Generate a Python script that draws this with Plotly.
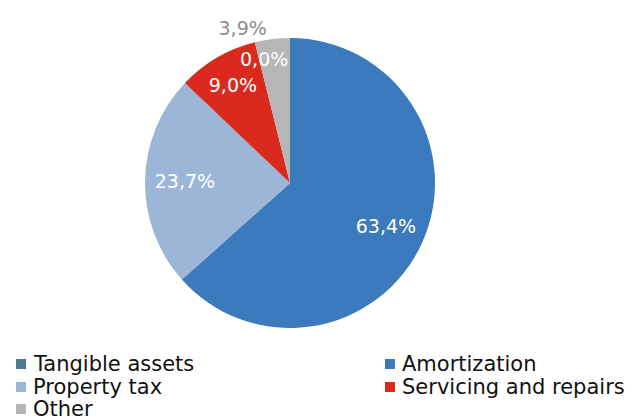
import plotly.graph_objects as go

categories = ["Tangible assets", "Amortization", "Property tax", "Servicing and repairs", "Other"]
values = [0.0, 63.4, 23.7, 9.0, 3.9]
colors = ["#4D7A8E", "#3A7ABD", "#9CB6D8", "#DA2A1D", "#B6B6B6"]

W, H = 633, 420
cx, cy, r = 290, 183, 145
FONT = "DejaVu Sans"

domain = dict(x=[(cx - r) / W, (cx + r) / W], y=[1 - (cy + r) / H, 1 - (cy - r) / H])

text_colors = ["white" if v > 5 else "#8C8C8C" for v in values]
text_positions = ["none" if v == 0 else ("inside" if v > 5 else "outside") for v in values]

# full pie (the slices)
fig = go.Figure(go.Pie(
    labels=categories,
    values=values,
    sort=False,
    direction="clockwise",
    rotation=0,
    marker=dict(colors=colors, line=dict(width=0)),
    textinfo="none",
    domain=domain,
    showlegend=False,
    hoverinfo="label+percent",
))

# same data as a transparent ring so the data labels sit further out, as in the reference
fig.add_trace(go.Pie(
    labels=categories,
    values=values,
    sort=False,
    direction="clockwise",
    rotation=0,
    hole=0.45,
    marker=dict(colors=["rgba(0,0,0,0)"] * len(values), line=dict(width=0)),
    texttemplate="%{value:.1f}%",
    textposition=text_positions,
    insidetextorientation="horizontal",
    textfont=dict(family=FONT, size=19, color=text_colors),
    domain=domain,
    showlegend=False,
    hoverinfo="skip",
))

def px(x):
    return x / W

def py(y):
    return 1 - y / H

# Legend (two columns) built from the category and colour arrays
col_x = [16, 385]
row_y = [364, 387, 409]
annotations = []
shapes = []
for i, (name, col) in enumerate(zip(categories, colors)):
    lx = col_x[i % 2]
    ry = row_y[i // 2]
    shapes.append(dict(type="rect", xref="paper", yref="paper",
                       x0=px(lx), x1=px(lx + 10), y0=py(ry + 5), y1=py(ry - 5),
                       fillcolor=col, line=dict(width=0)))
    annotations.append(dict(text=name, xref="paper", yref="paper",
                            x=px(lx + 15), y=py(ry), xanchor="left", yanchor="middle",
                            showarrow=False, font=dict(family=FONT, size=21, color="#111111")))

# label for the zero-valued slice (a zero-width slice has no room for its own text)
zero_label = ("%.1f" % values[0]).replace(".", ",") + "%"
annotations.append(dict(text=zero_label, xref="paper", yref="paper",
                        x=px(264), y=py(59), xanchor="center", yanchor="middle",
                        showarrow=False, font=dict(family=FONT, size=19, color="white")))

fig.update_layout(
    width=W, height=H,
    margin=dict(l=0, r=0, t=0, b=0),
    paper_bgcolor="white",
    plot_bgcolor="white",
    separators=", ",
    font=dict(family=FONT, size=19, color="#000000"),
    showlegend=False,
    uniformtext=dict(minsize=19, mode="show"),
    annotations=annotations,
    shapes=shapes,
)

fig.write_html("out.html", config={"displayModeBar": False},
               post_script="document.body.style.margin='0';")
